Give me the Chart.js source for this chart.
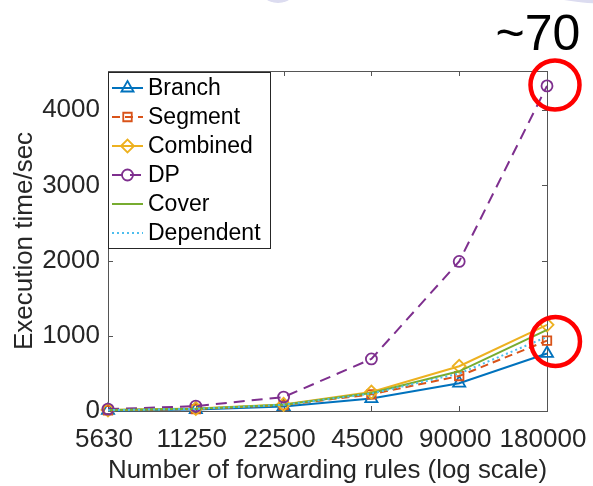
<!DOCTYPE html>
<html><head><meta charset="utf-8">
<script src="https://cdn.jsdelivr.net/npm/chart.js@4/dist/chart.umd.min.js"></script>
<style>html,body{margin:0;padding:0;background:#fff;overflow:hidden}canvas{display:block}</style>
</head><body>
<canvas id="c" width="593" height="486"></canvas>
<script>
// ---- data ----
const categories = ['5630', '11250', '22500', '45000', '90000', '180000'];
const yTickValues = [0, 1000, 2000, 3000, 4000];
const branch    = [8, 20, 60, 165, 370, 765];
const segment   = [10, 26, 78, 222, 465, 935];
const combined  = [14, 32, 88, 252, 595, 1145];
const dp        = [25, 65, 185, 692, 1988, 4322];
const cover     = [12, 30, 84, 240, 528, 1078];
const dependent = [11, 28, 82, 232, 498, 985];
const seriesNames = ['Branch', 'Segment', 'Combined', 'DP', 'Cover', 'Dependent'];
const xTitle = 'Number of forwarding rules (log scale)';
const yTitle = 'Execution time/sec';
const noteText = '~70';

// ---- styles ----
const FONT = "'Liberation Sans', Arial, Helvetica, sans-serif";
const seriesData = [branch, segment, combined, dp, cover, dependent];
const styles = [
  {color: '#0072BD', dash: [],     point: 'triangle', r: 7},
  {color: '#D95319', dash: [8, 5], point: 'rect',     r: 6},
  {color: '#EDB120', dash: [],     point: 'rectRot',  r: 6.5},
  {color: '#7E2F8E', dash: [11, 7],point: 'circle',   r: 5.5},
  {color: '#77AC30', dash: [],     point: 'circle',   r: 0},
  {color: '#4DBEEE', dash: [2, 3], point: 'circle',   r: 0}
];

const datasets = seriesNames.map((name, i) => ({
  label: name,
  data: seriesData[i],
  borderColor: styles[i].color,
  borderWidth: 2,
  borderDash: styles[i].dash,
  pointStyle: styles[i].point,
  pointRadius: styles[i].r,
  pointHoverRadius: styles[i].r,
  pointBorderColor: styles[i].color,
  pointBackgroundColor: 'rgba(0,0,0,0)',
  pointBorderWidth: 1.8,
  tension: 0,
  fill: false,
  clip: false,
  order: seriesNames.length - i
}));

const AX = '#555555';
const TXT = '#262626';

const framePlugin = {
  id: 'frame',
  beforeDatasetsDraw(chart) {
    const ctx = chart.ctx;
    const {left, right, top, bottom} = chart.chartArea;
    const xs = chart.scales.x, ys = chart.scales.y;
    ctx.save();
    ctx.strokeStyle = AX;
    ctx.lineWidth = 1;
    ctx.strokeRect(Math.round(left) + 0.5, Math.round(top) + 0.5, Math.round(right - left), Math.round(bottom - top));
    ctx.beginPath();
    const tl = 5;
    for (let i = 0; i < categories.length; i++) {
      const x = Math.round(xs.getPixelForTick(i)) + 0.5;
      ctx.moveTo(x, bottom); ctx.lineTo(x, bottom - tl);
      ctx.moveTo(x, top); ctx.lineTo(x, top + tl);
    }
    yTickValues.forEach(v => {
      const y = Math.round(ys.getPixelForValue(v)) + 0.5;
      ctx.moveTo(left, y); ctx.lineTo(left + tl, y);
      ctx.moveTo(right, y); ctx.lineTo(right - tl, y);
    });
    ctx.stroke();
    ctx.restore();
  }
};

const legendPlugin = {
  id: 'boxLegend',
  afterDatasetsDraw(chart) {
    const ctx = chart.ctx;
    const bx = 108.5, by = 72.5, bw = 162, bh = 176;
    ctx.save();
    ctx.fillStyle = '#ffffff';
    ctx.fillRect(bx, by, bw, bh);
    ctx.strokeStyle = TXT;
    ctx.lineWidth = 1;
    ctx.strokeRect(bx, by, bw, bh);
    seriesNames.forEach((name, i) => {
      const y = 88 + i * 29;
      const s = styles[i];
      ctx.strokeStyle = s.color;
      ctx.lineWidth = 2;
      ctx.setLineDash(s.dash);
      ctx.beginPath();
      ctx.moveTo(112, y); ctx.lineTo(143, y);
      ctx.stroke();
      ctx.setLineDash([]);
      if (s.r > 0) {
        ctx.strokeStyle = s.color;
        ctx.fillStyle = 'rgba(0,0,0,0)';
        ctx.lineWidth = 1.8;
        Chart.helpers.drawPoint(ctx, {pointStyle: s.point, radius: s.r, borderWidth: 1.8, rotation: 0}, 127.5, y);
      }
      ctx.fillStyle = '#000';
      ctx.font = '23px ' + FONT;
      ctx.textBaseline = 'middle';
      ctx.textAlign = 'left';
      ctx.fillText(name, 148, y + 1);
    });
    ctx.restore();
  }
};

const notePlugin = {
  id: 'notes',
  afterDraw(chart) {
    const ctx = chart.ctx;
    ctx.save();
    ctx.fillStyle = '#dcdcf0';
    ctx.beginPath(); ctx.ellipse(278, -20, 22, 23, 0, 0, Math.PI * 2); ctx.fill();
    ctx.beginPath(); ctx.ellipse(615, -16, 85, 20, 0, 0, Math.PI * 2); ctx.fill();
    ctx.strokeStyle = '#ff0000';
    ctx.lineWidth = 4.5;
    ctx.beginPath(); ctx.arc(555, 85, 24.5, 0, Math.PI * 2); ctx.stroke();
    ctx.beginPath(); ctx.arc(555.5, 341.5, 24.5, 0, Math.PI * 2); ctx.stroke();
    ctx.fillStyle = '#000';
    ctx.font = '50px ' + FONT;
    ctx.textAlign = 'center';
    ctx.textBaseline = 'alphabetic';
    ctx.fillText(noteText, 538, 50);
    ctx.restore();
  }
};

new Chart(document.getElementById('c'), {
  type: 'line',
  data: {labels: categories, datasets},
  plugins: [framePlugin, legendPlugin, notePlugin],
  options: {
    responsive: false,
    animation: false,
    devicePixelRatio: 1,
    layout: {padding: {top: 71, right: 46, left: 0, bottom: 0}},
    plugins: {legend: {display: false}, tooltip: {enabled: false}},
    scales: {
      x: {
        type: 'category',
        offset: false,
        grid: {display: false, drawTicks: false},
        border: {display: false},
        afterFit: s => { s.height = 75; s.paddingLeft = 0; s.paddingRight = 0; },
        ticks: {font: {family: FONT, size: 26}, color: TXT, padding: 13, labelOffset: -4, maxRotation: 0, autoSkip: false},
        title: {display: true, text: xTitle, font: {family: FONT, size: 26}, color: TXT, padding: {top: 0, bottom: 0}}
      },
      y: {
        min: 0,
        max: 4520,
        afterBuildTicks: s => { s.ticks = yTickValues.map(v => ({value: v})); },
        afterFit: s => { s.width = 108; s.paddingTop = 0; s.paddingBottom = 0; },
        grid: {display: false, drawTicks: false},
        border: {display: false},
        ticks: {font: {family: FONT, size: 26}, color: TXT, padding: 8, callback: v => String(v)},
        title: {display: true, text: yTitle, font: {family: FONT, size: 26}, color: TXT, padding: {top: 9, bottom: 0}}
      }
    }
  }
});
</script>
</body></html>
